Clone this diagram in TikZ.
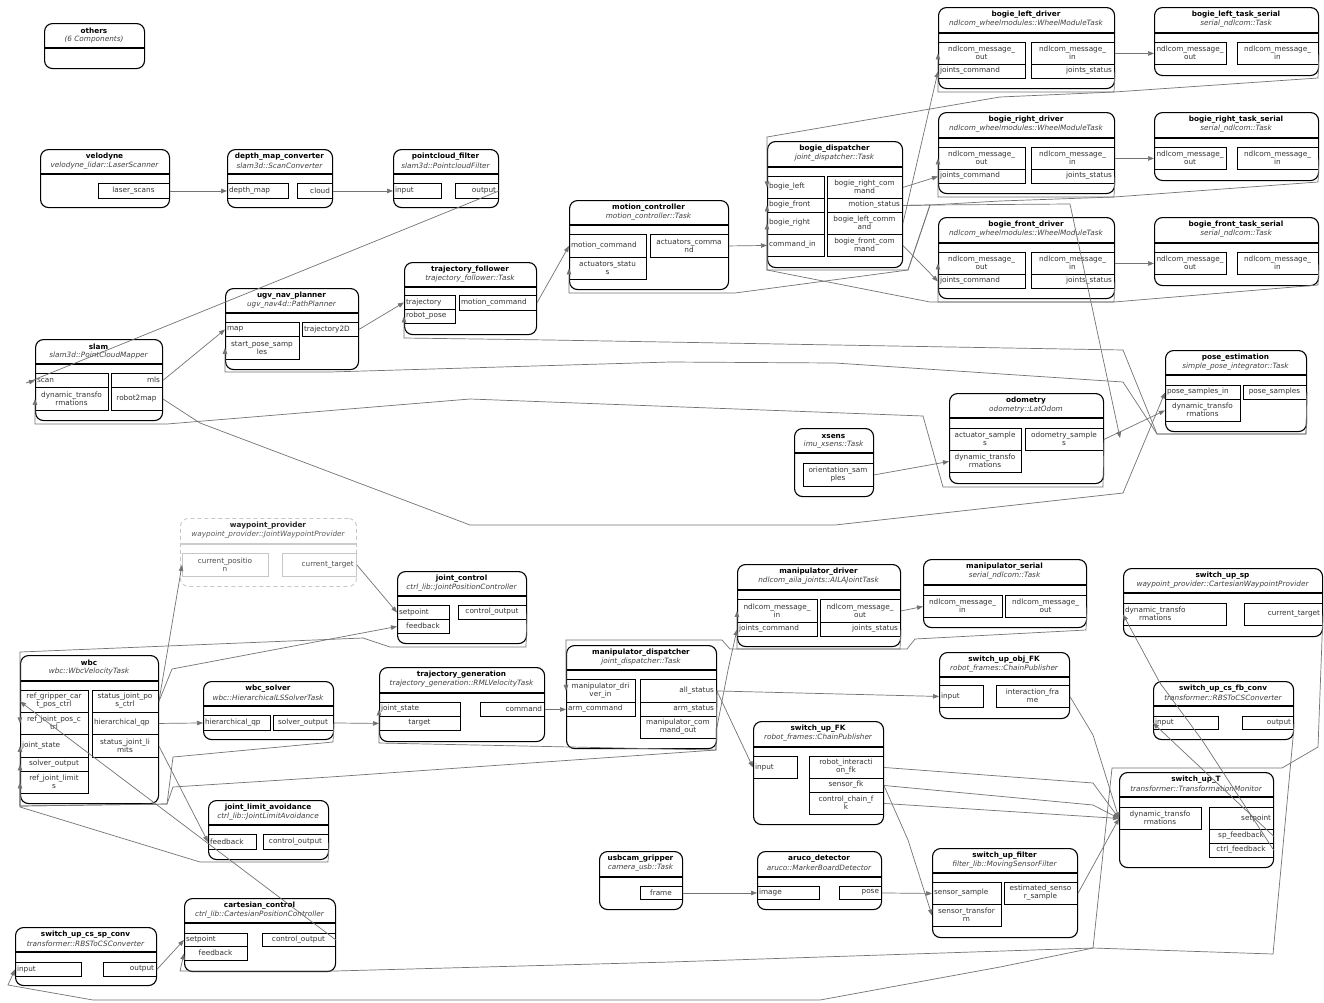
\documentclass[tikz,border=0pt]{standalone}
\usepackage{fontspec}
\setmainfont{DejaVu Sans}
\usetikzlibrary{arrows.meta}
\newcommand{\comp}[8]{%
 \node[compbox,minimum width={(#4)-(#2)},minimum height={(#5)-(#3)},anchor=north west] (#1) at (#2,#3) {};
 \node[ttl] (#1-t) at ({((#2)+(#4))/2},{(#3)+8}) {#7};
 \node[sub] (#1-s) at ({((#2)+(#4))/2},{(#3)+16.5}) {#8};
 \draw[sepl] (#2,#6) -- (#4,#6);
}
\newcommand{\port}[7]{%
 \node[portbox,minimum width={(#4)-(#2)},minimum height={(#5)-(#3)},anchor=north west] (#1) at (#2,#3) {};
 \if#6l\node[plab,anchor=west] (#1-l) at ({(#2)+1.8},{((#3)+(#5))/2}) {#7};\fi
 \if#6r\node[plab,anchor=east] (#1-l) at ({(#4)-1.8},{((#3)+(#5))/2}) {#7};\fi
 \if#6c\node[plab] (#1-l) at ({((#2)+(#4))/2},{((#3)+(#5))/2}) {#7};\fi
}
\begin{document}
\catcode`\_=12
\begin{tikzpicture}[x=1pt,y=-1pt,
 compbox/.style={draw=black,line width=1.1pt,rounded corners=8pt,inner sep=0pt},
 sepl/.style={draw=black,line width=1.6pt},
 ttl/.style={font=\fontsize{7.3}{8}\selectfont\bfseries,inner sep=0pt,text=black},
 sub/.style={font=\fontsize{7.3}{8}\selectfont\itshape,inner sep=0pt,text=black!75},
 portbox/.style={draw=black,line width=0.9pt,inner sep=0pt},
 plab/.style={font=\fontsize{7.3}{8}\selectfont,inner sep=0pt,align=center,text=black!80},
 conn/.style={draw=black!55,line width=0.7pt},
 arr/.style={conn,-{Triangle[length=6pt,width=4.5pt]}}]
\useasboundingbox[fill=white] (0,0) rectangle (1324,1002);

% ---------------- upper part ----------------
\comp{others}{44}{23}{144}{68}{48}{others}{(6 Components)}
\comp{velodyne}{40}{149}{169}{207}{174}{velodyne}{velodyne_lidar::LaserScanner}
\port{velodyne-ls}{98}{183}{169}{198}{c}{laser_scans}
\comp{dmc}{227}{149}{332}{207}{174}{depth_map_converter}{slam3d::ScanConverter}
\port{dmc-dm}{227}{183}{288}{198}{l}{depth_map}
\port{dmc-cloud}{297}{183}{332}{198}{r}{cloud}
\comp{pcf}{393}{149}{498}{207}{174}{pointcloud_filter}{slam3d::PointcloudFilter}
\port{pcf-input}{393}{183}{441}{198}{l}{input}
\port{pcf-output}{455}{183}{498}{198}{r}{output}
\comp{ugv}{225}{288}{358}{369}{313}{ugv_nav_planner}{ugv_nav4d::PathPlanner}
\port{ugv-map}{225}{322}{299}{336}{l}{map}
\port{ugv-start}{225}{336}{299}{359}{c}{start_pose_samp\\les}
\port{ugv-traj}{302}{322}{358}{336}{l}{trajectory2D}
\comp{tf}{404}{262}{536}{334}{287}{trajectory_follower}{trajectory_follower::Task}
\port{tf-traj}{404}{295}{455}{309}{l}{trajectory}
\port{tf-rp}{404}{309}{455}{323}{l}{robot_pose}
\port{tf-mc}{459}{295}{536}{310}{l}{motion_command}
\comp{mc}{569}{200}{728}{289}{225}{motion_controller}{motion_controller::Task}
\port{mc-mc}{569}{234}{646}{257}{l}{motion_command}
\port{mc-as}{569}{257}{646}{279}{c}{actuators_statu\\s}
\port{mc-ac}{650}{234}{728}{257}{c}{actuators_comma\\nd}
\comp{bd}{767}{141}{902}{267}{167}{bogie_dispatcher}{joint_dispatcher::Task}
\port{bd-bl}{767}{176}{824}{198}{l}{bogie_left}
\port{bd-bf}{767}{198}{824}{212}{l}{bogie_front}
\port{bd-br}{767}{212}{824}{234}{l}{bogie_right}
\port{bd-ci}{767}{234}{824}{256}{l}{command_in}
\port{bd-brc}{827}{176}{902}{198}{c}{bogie_right_com\\mand}
\port{bd-ms}{827}{198}{902}{212}{r}{motion_status}
\port{bd-blc}{827}{212}{902}{234}{c}{bogie_left_comm\\and}
\port{bd-bfc}{827}{234}{902}{256}{c}{bogie_front_com\\mand}

\comp{bld}{938}{7}{1114}{88}{33}{bogie_left_driver}{ndlcom_wheelmodules::WheelModuleTask}
\port{bld-out}{938}{42}{1025}{64}{c}{ndlcom_message_\\out}
\port{bld-jc}{938}{64}{1025}{78}{l}{joints_command}
\port{bld-in}{1031}{42}{1114}{64}{c}{ndlcom_message_\\in}
\port{bld-js}{1031}{64}{1114}{78}{r}{joints_status}
\comp{brd}{938}{112}{1114}{193}{138}{bogie_right_driver}{ndlcom_wheelmodules::WheelModuleTask}
\port{brd-out}{938}{147}{1025}{169}{c}{ndlcom_message_\\out}
\port{brd-jc}{938}{169}{1025}{183}{l}{joints_command}
\port{brd-in}{1031}{147}{1114}{169}{c}{ndlcom_message_\\in}
\port{brd-js}{1031}{169}{1114}{183}{r}{joints_status}
\comp{bfd}{938}{217}{1114}{298}{243}{bogie_front_driver}{ndlcom_wheelmodules::WheelModuleTask}
\port{bfd-out}{938}{252}{1025}{274}{c}{ndlcom_message_\\out}
\port{bfd-jc}{938}{274}{1025}{288}{l}{joints_command}
\port{bfd-in}{1031}{252}{1114}{274}{c}{ndlcom_message_\\in}
\port{bfd-js}{1031}{274}{1114}{288}{r}{joints_status}

\comp{bls}{1154}{7}{1318}{75}{33}{bogie_left_task_serial}{serial_ndlcom::Task}
\port{bls-out}{1154}{42}{1226}{64}{c}{ndlcom_message_\\out}
\port{bls-in}{1237}{42}{1318}{64}{c}{ndlcom_message_\\in}
\comp{brs}{1154}{112}{1318}{180}{138}{bogie_right_task_serial}{serial_ndlcom::Task}
\port{brs-out}{1154}{147}{1226}{169}{c}{ndlcom_message_\\out}
\port{brs-in}{1237}{147}{1318}{169}{c}{ndlcom_message_\\in}
\comp{bfs}{1154}{217}{1318}{285}{243}{bogie_front_task_serial}{serial_ndlcom::Task}
\port{bfs-out}{1154}{252}{1226}{274}{c}{ndlcom_message_\\out}
\port{bfs-in}{1237}{252}{1318}{274}{c}{ndlcom_message_\\in}

\comp{slam}{35}{339}{162}{420}{364}{slam}{slam3d::PointCloudMapper}
\port{slam-scan}{35}{373}{108}{387}{l}{scan}
\port{slam-dyn}{35}{387}{108}{410}{c}{dynamic_transfo\\rmations}
\port{slam-mls}{111}{373}{162}{387}{r}{mls}
\port{slam-r2m}{111}{387}{162}{410}{c}{robot2map}
\comp{pe}{1165}{350}{1306}{431}{375}{pose_estimation}{simple_pose_integrator::Task}
\port{pe-psin}{1165}{385}{1240}{399}{l}{pose_samples_in}
\port{pe-dyn}{1165}{399}{1240}{421}{c}{dynamic_transfo\\rmations}
\port{pe-ps}{1243}{385}{1306}{399}{c}{pose_samples}
\comp{odo}{949}{393}{1103}{483}{418}{odometry}{odometry::LatOdom}
\port{odo-as}{949}{428}{1021}{450}{c}{actuator_sample\\s}
\port{odo-dyn}{949}{450}{1021}{472}{c}{dynamic_transfo\\rmations}
\port{odo-os}{1025}{428}{1103}{450}{c}{odometry_sample\\s}
\comp{xsens}{794}{428}{873}{496}{453}{xsens}{imu_xsens::Task}
\port{xsens-os}{803}{463}{873}{486}{c}{orientation_sam\\ples}
\coordinate (odo-in-arrow) at (1120,438);

% ---------------- lower part ----------------
\node[compbox,draw=black!22,dash pattern=on 4pt off 3pt,line width=0.9pt,minimum width=176,minimum height=68,anchor=north west] (wp) at (180,518) {};
\node[ttl,text=black!85] (wp-t) at (268,526) {waypoint_provider};
\node[sub,text=black!65] (wp-s) at (268,534.5) {waypoint_provider::JointWaypointProvider};
\draw[sepl,draw=black!20] (180,544) -- (356,544);
\node[portbox,draw=black!22,minimum width=86,minimum height=23,anchor=north west] (wp-cp) at (182,553) {};
\node[plab,text=black!70] (wp-cp-l) at (225,564.5) {current_positio\\n};
\node[portbox,draw=black!22,minimum width=74,minimum height=23,anchor=north west] (wp-ct) at (282,553) {};
\node[plab,text=black!70,anchor=east] (wp-ct-l) at (354,564.5) {current_target};

\comp{jc}{397}{571}{526}{643}{596}{joint_control}{ctrl_lib::JointPositionController}
\port{jc-sp}{397}{605}{449}{619}{l}{setpoint}
\port{jc-fb}{397}{619}{449}{633}{c}{feedback}
\port{jc-co}{458}{605}{526}{619}{c}{control_output}

\comp{wbc}{20}{655}{158}{803}{681}{wbc}{wbc::WbcVelocityTask}
\port{wbc-rgc}{20}{690}{88}{712}{c}{ref_gripper_car\\t_pos_ctrl}
\port{wbc-rjp}{20}{712}{88}{734}{c}{ref_joint_pos_c\\trl}
\port{wbc-js}{20}{734}{88}{757}{l}{joint_state}
\port{wbc-so}{20}{757}{88}{771}{c}{solver_output}
\port{wbc-rjl}{20}{771}{88}{793}{c}{ref_joint_limit\\s}
\port{wbc-sjp}{92}{690}{158}{712}{c}{status_joint_po\\s_ctrl}
\port{wbc-hqp}{92}{712}{158}{734}{l}{hierarchical_qp}
\port{wbc-sjl}{92}{734}{158}{757}{c}{status_joint_li\\mits}

\comp{ws}{203}{681}{333}{739}{706}{wbc_solver}{wbc::HierarchicalLSSolverTask}
\port{ws-hqp}{203}{715}{270}{730}{l}{hierarchical_qp}
\port{ws-so}{273}{715}{333}{730}{c}{solver_output}
\comp{jla}{208}{800}{328}{859}{825}{joint_limit_avoidance}{ctrl_lib::JointLimitAvoidance}
\port{jla-fb}{208}{834}{256}{849}{l}{feedback}
\port{jla-co}{263}{834}{328}{849}{c}{control_output}
\comp{cc}{184}{898}{335}{971}{923}{cartesian_control}{ctrl_lib::CartesianPositionController}
\port{cc-sp}{184}{933}{247}{946}{l}{setpoint}
\port{cc-fb}{184}{946}{247}{960}{c}{feedback}
\port{cc-co}{262}{933}{335}{946}{c}{control_output}
\comp{csp}{15}{927}{156}{985}{952}{switch_up_cs_sp_conv}{transformer::RBSToCSConverter}
\port{csp-in}{15}{962}{81}{976}{l}{input}
\port{csp-out}{103}{962}{156}{976}{r}{output}

\comp{tg}{379}{667}{544}{741}{693}{trajectory_generation}{trajectory_generation::RMLVelocityTask}
\port{tg-js}{379}{702}{460}{716}{l}{joint_state}
\port{tg-tg}{379}{716}{460}{730}{c}{target}
\port{tg-cmd}{480}{702}{544}{716}{r}{command}
\comp{md}{566}{645}{716}{748}{670}{manipulator_dispatcher}{joint_dispatcher::Task}
\port{md-mdi}{566}{679}{635}{702}{c}{manipulator_dri\\ver_in}
\port{md-arm}{566}{702}{635}{716}{l}{arm_command}
\port{md-all}{640}{679}{716}{702}{r}{all_status}
\port{md-as}{640}{702}{716}{716}{r}{arm_status}
\port{md-mco}{640}{716}{716}{738}{c}{manipulator_com\\mand_out}
\comp{mdr}{737}{564}{900}{646}{590}{manipulator_driver}{ndlcom_aila_joints::AILAJointTask}
\port{mdr-in}{737}{599}{817}{622}{c}{ndlcom_message_\\in}
\port{mdr-jc}{737}{622}{817}{636}{l}{joints_command}
\port{mdr-out}{820}{599}{900}{622}{c}{ndlcom_message_\\out}
\port{mdr-js}{820}{622}{900}{636}{r}{joints_status}
\comp{ms}{923}{559}{1086}{627}{585}{manipulator_serial}{serial_ndlcom::Task}
\port{ms-in}{923}{595}{1002}{617}{c}{ndlcom_message_\\in}
\port{ms-out}{1005}{595}{1086}{617}{c}{ndlcom_message_\\out}
\comp{ssp}{1123}{568}{1322}{636}{593}{switch_up_sp}{waypoint_provider::CartesianWaypointProvider}
\port{ssp-dyn}{1123}{603}{1226}{625}{l}{dynamic_transfo\\rmations}
\port{ssp-ct}{1244}{603}{1322}{625}{r}{current_target}
\comp{sof}{939}{652}{1069}{718}{677}{switch_up_obj_FK}{robot_frames::ChainPublisher}
\port{sof-in}{939}{685}{983}{707}{l}{input}
\port{sof-if}{996}{685}{1069}{707}{c}{interaction_fra\\me}
\comp{sfk}{753}{721}{883}{824}{747}{switch_up_FK}{robot_frames::ChainPublisher}
\port{sfk-in}{753}{756}{797}{778}{l}{input}
\port{sfk-rif}{809}{756}{883}{778}{c}{robot_interacti\\on_fk}
\port{sfk-sfk}{809}{778}{883}{792}{c}{sensor_fk}
\port{sfk-ccf}{809}{792}{883}{814}{c}{control_chain_f\\k}
\comp{ucg}{599}{851}{682}{909}{877}{usbcam_gripper}{camera_usb::Task}
\port{ucg-frame}{640}{886}{682}{899}{c}{frame}
\comp{ad}{757}{851}{881}{909}{877}{aruco_detector}{aruco::MarkerBoardDetector}
\port{ad-image}{757}{886}{819}{899}{l}{image}
\port{ad-pose}{839}{886}{881}{899}{r}{pose}
\comp{sf}{932}{848}{1077}{937}{873}{switch_up_filter}{filter_lib::MovingSensorFilter}
\port{sf-ss}{932}{882}{1001}{904}{l}{sensor_sample}
\port{sf-st}{932}{904}{1001}{926}{c}{sensor_transfor\\m}
\port{sf-ess}{1004}{882}{1077}{904}{c}{estimated_senso\\r_sample}
\comp{cfb}{1153}{681}{1293}{739}{706}{switch_up_cs_fb_conv}{transformer::RBSToCSConverter}
\port{cfb-in}{1153}{716}{1218}{729}{l}{input}
\port{cfb-out}{1242}{716}{1293}{729}{r}{output}
\comp{sut}{1119}{772}{1273}{867}{797}{switch_up_T}{transformer::TransformationMonitor}
\port{sut-dyn}{1119}{807}{1201}{829}{c}{dynamic_transfo\\rmations}
\port{sut-sp}{1209}{807}{1273}{829}{r}{setpoint}
\port{sut-spf}{1209}{829}{1273}{843}{c}{sp_feedback}
\port{sut-cf}{1209}{843}{1273}{857}{c}{ctrl_feedback}

% ---------------- connectors (upper) ----------------
\draw[arr] (velodyne-ls.east) -- (dmc-dm.west);
\draw[arr] (dmc-cloud.east) -- (pcf-input.west);
\draw[arr] (pcf-output.east) -- (26,383) -- (slam-scan.west);
\draw[arr] (slam-mls.east) -- (ugv-map.west);
\draw[arr] (slam-r2m.east) -- (200,423) -- (470,525) -- (835,525) -- (1123,493) -- (pe-psin.west);
\draw[arr] (odo-os.east) -- (pe-dyn.west);
\draw[arr] (odo-os.east) -- (1103,487) -- (943,487) -- (923,416) -- (470,399) -- (167,424) -- (35,424) -- (slam-dyn.west);
\draw[arr] (pe-ps.east) -- (1306,434) -- (1157,434) -- (1123,350) -- (550,340) -- (404,338) -- (tf-rp.west);
\draw[arr] (pe-ps.east) -- (1306,434) -- (1157,434) -- (1123,382) -- (835,363) -- (670,362) -- (330,372) -- (225,372) -- (ugv-start.west);
\draw[arr] (xsens-os.east) -- (odo-dyn.west);
\draw[arr] (ugv-traj.east) -- (tf-traj.west);
\draw[arr] (tf-mc.east) -- (mc-mc.west);
\draw[arr] (mc-ac.east) -- (bd-ci.west);
\draw[arr] (bd-brc.east) -- (brd-jc.west);
\draw[arr] (bd-blc.east) -- (bld-jc.west);
\draw[arr] (bd-bfc.east) -- (bfd-jc.west);
\draw[arr] (bld-in.east) -- (bls-out.west);
\draw[arr] (brd-in.east) -- (brs-out.west);
\draw[arr] (bfd-in.east) -- (bfs-out.west);
\draw[arr] (bls-in.east) -- (1318,78) -- (1114,92) -- (938,92) -- (bld-out.west);
\draw[arr] (brs-in.east) -- (1318,182) -- (1114,197) -- (938,197) -- (brd-out.west);
\draw[arr] (bfs-in.east) -- (1318,285) -- (1114,302) -- (938,302) -- (bfd-out.west);
\draw[arr] (bld-js.east) -- (1114,92) -- (1000,97) -- (767,137) -- (bd-bl.west);
\draw[arr] (brd-js.east) -- (1114,197) -- (1000,201) -- (930,205) -- (908,270) -- (767,270) -- (bd-br.west);
\draw[arr] (bfd-js.east) -- (1114,302) -- (930,302) -- (767,270) -- (bd-bf.west);
\draw[arr] (bd-ms.east) -- (930,205) -- (908,270) -- (735,293) -- (569,293) -- (mc-as.west);
\draw[arr] (bd-ms.east) -- (930,205) -- (1070,204) -- (odo-in-arrow);

% ---------------- connectors (lower) ----------------
\draw[arr] (wp-ct.east) -- (jc-sp.west);
\draw[arr] (wbc-sjp.east) -- (wp-cp.west);
\draw[arr] (wbc-sjp.east) -- (172,669) -- (jc-fb.west);
\draw[arr] (jc-co.east) -- (526,647) -- (390,647) -- (363,638) -- (20,652) -- (wbc-rjp.west);
\draw[arr] (wbc-hqp.east) -- (ws-hqp.west);
\draw[arr] (ws-so.east) -- (tg-tg.west);
\draw[arr] (ws-so.east) -- (333,742) -- (173,757) -- (167,804) -- (20,806) -- (wbc-so.west);
\draw[arr] (md-all.east) -- (716,750) -- (379,743) -- (tg-js.west);
\draw[arr] (md-all.east) -- (716,750) -- (330,777) -- (173,787) -- (167,804) -- (20,806) -- (wbc-js.west);
\draw[arr] (jla-co.east) -- (328,862) -- (200,862) -- (20,807) -- (wbc-rjl.west);
\draw[arr] (wbc-sjl.east) -- (jla-fb.west);
\draw[arr] (cc-co.east) -- (wbc-rgc.west);
\draw[arr] (tg-cmd.east) -- (md-arm.west);
\draw[arr] (mdr-js.east) -- (900,649) -- (730,649) -- (722,640) -- (566,640) -- (md-mdi.west);
\draw[arr] (md-mco.east) -- (728,670) -- (mdr-jc.west);
\draw[arr] (mdr-out.east) -- (ms-in.west);
\draw[arr] (ms-out.east) -- (1086,630) -- (915,639) -- (907,649) -- (737,649) -- (mdr-in.west);
\draw[arr] (md-all.east) -- (sof-in.west);
\draw[arr] (md-all.east) -- (sfk-in.west);
\draw[arr] (sfk-rif.east) -- (1093,783) -- (sut-dyn.west);
\draw[arr] (sfk-sfk.east) -- (1093,805) -- (sut-dyn.west);
\draw[arr] (sfk-ccf.east) -- (sut-dyn.west);
\draw[arr] (sfk-sfk.east) -- (908,840) -- (sf-st.west);
\draw[arr] (sof-if.east) -- (1093,735) -- (sut-dyn.west);
\draw[arr] (sf-ess.east) -- (sut-dyn.west);
\draw[arr] (ucg-frame.east) -- (ad-image.west);
\draw[arr] (ad-pose.east) -- (sf-ss.west);
\draw[arr] (sut-spf.east) -- (cfb-in.west);
\draw[arr] (sut-cf.east) -- (1202,740) -- (1160,683) -- (ssp-dyn.west);
\draw[arr] (ssp-ct.east) -- (1318,747) -- (1282,768) -- (1112,768) -- (1093,948) -- (1000,967) -- (820,1000) -- (93,1000) -- (8,985) -- (csp-in.west);
\draw[arr] (cfb-out.east) -- (1293,738) -- (1273,954) -- (1093,948) -- (670,962) -- (335,971) -- (180,971) -- (cc-fb.west);
\draw[arr] (csp-out.east) -- (cc-sp.west);
\end{tikzpicture}
\end{document}
